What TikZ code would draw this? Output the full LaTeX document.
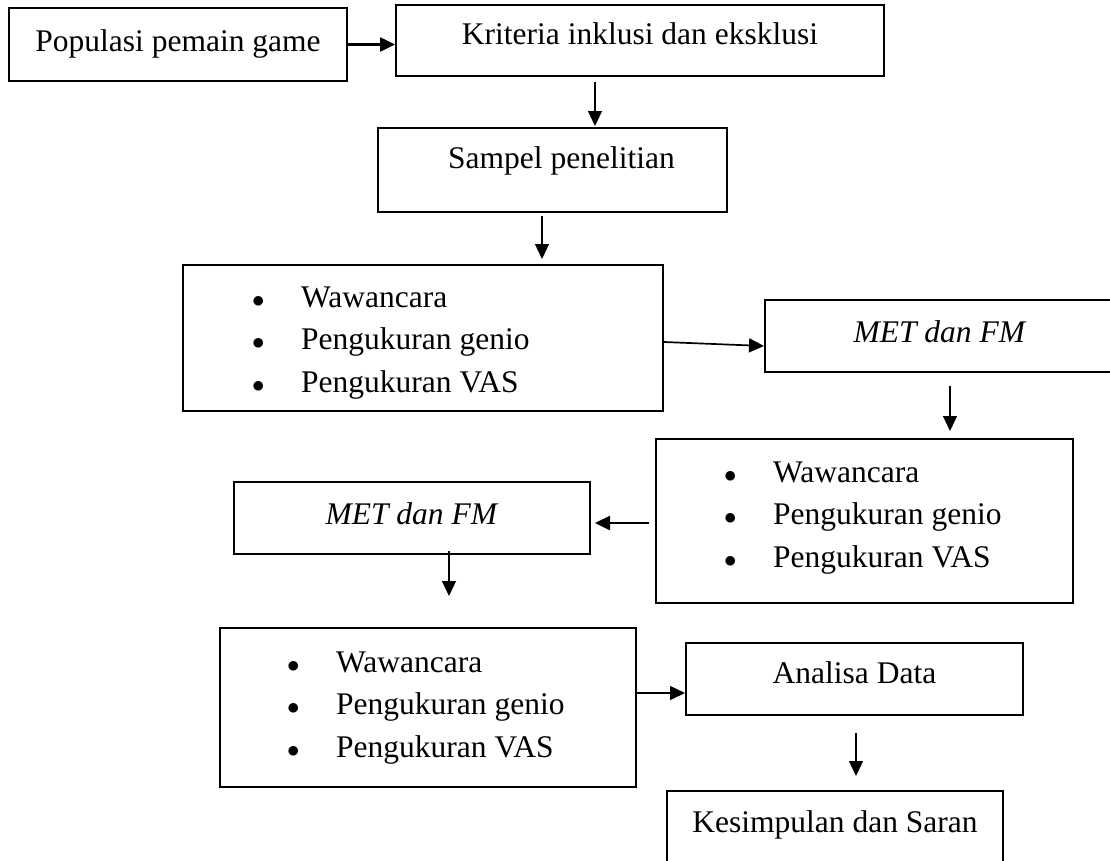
\documentclass[tikz,border=0pt]{standalone}
\usepackage{fontspec}
\setmainfont{Liberation Serif}
\usetikzlibrary{
    arrows.meta,
    positioning,
    calc}
\newcommand*{\huruf}{\fontsize{31.5pt}{42pt}\selectfont}
\newcommand*{\daftar}[3]{%
    \foreach \teks [count=\i from 0] in {Wawancara,Pengukuran genio,Pengukuran VAS} {
      \node[butir] (#1-\i) at (#2,#3+42.5*\i) {\makebox[49pt][l]{$\bullet$}\teks};
    }
}

\begin{document}
\begin{tikzpicture}[x=1pt, y=-1pt,
    kotak/.style={draw, line width=2pt, inner sep=0pt, text height=21pt, text depth=7pt, font=\huruf},
    butir/.style={anchor=base west, inner sep=0pt, font=\huruf},
    panah/.style={-{Triangle[length=15pt,width=14pt]}, line width=1.2pt},
    tebal/.style={line width=2.5pt}]
    \useasboundingbox (0,0) rectangle (1110,860);
    \clip (0,0) rectangle (1110,860);
    \node[kotak, minimum width=338pt, minimum height=73pt] (populasi) at (178,44.5) {Populasi pemain game};
    \node[kotak, minimum width=488pt, minimum height=71pt, text depth=14pt] (kriteria) at (640,40.5) {Kriteria inklusi dan eksklusi};
    \node[kotak, minimum width=349pt, minimum height=84pt, text depth=25pt] (sampel) at (552.5,170) {\hspace*{18pt}Sampel penelitian};
    \node[kotak, minimum width=480pt, minimum height=146pt] (isi1) at (423,338) {};
    \daftar{isi1}{252}{307}
    \node[kotak, minimum width=350pt, minimum height=72pt, text depth=9pt] (met1) at (940,336) {\textit{MET dan FM}};
    \node[kotak, minimum width=417pt, minimum height=164pt] (isi2) at (864.5,521) {};
    \daftar{isi2}{724}{482}
    \node[kotak, minimum width=356pt, minimum height=72pt, text depth=9pt] (met2) at (412,518) {\textit{MET dan FM}};
    \node[kotak, minimum width=416pt, minimum height=159pt] (isi3) at (428,707.5) {};
    \daftar{isi3}{287}{672}
    \node[kotak, minimum width=337pt, minimum height=72pt, text depth=13pt] (analisa) at (854.5,679) {Analisa Data};
    \node[kotak, minimum width=336pt, minimum height=79pt, text depth=18pt] (kesimpulan) at (835,830.5) {Kesimpulan dan Saran};

    \draw[panah, tebal] (populasi.east) -- (kriteria.west |- populasi.east);
    \draw[panah, shorten <=5pt, shorten >=1pt] ([xshift=-45pt]kriteria.south) -- ([xshift=42.5pt]sampel.north);
    \draw[panah, shorten <=3pt, shorten >=5pt] ([xshift=-10.5pt]sampel.south) -- ([xshift=119pt]isi1.north);
    \draw[panah, line width=1.7pt] ([yshift=-4pt]isi1.east) -- ([yshift=-10pt]met1.west);
    \draw[panah, shorten <=13pt, shorten >=7pt] ([xshift=10pt]met1.south) -- ([xshift=85.5pt]isi2.north);
    \draw[panah, tebal, shorten <=6pt, shorten >=4pt] ([yshift=-2pt]isi2.west) -- ([yshift=-5pt]met2.east);
    \draw[panah, shorten <=-4pt, shorten >=31pt] ([xshift=37pt]met2.south) -- ([xshift=21pt]isi3.north);
    \draw[panah, line width=1.5pt] ([yshift=14.5pt]isi3.east) -- ([yshift=-14pt]analisa.west);
    \draw[panah, shorten <=17pt, shorten >=14pt] ([xshift=1.5pt]analisa.south) -- ([xshift=21pt]kesimpulan.north);
\end{tikzpicture}
\end{document}
